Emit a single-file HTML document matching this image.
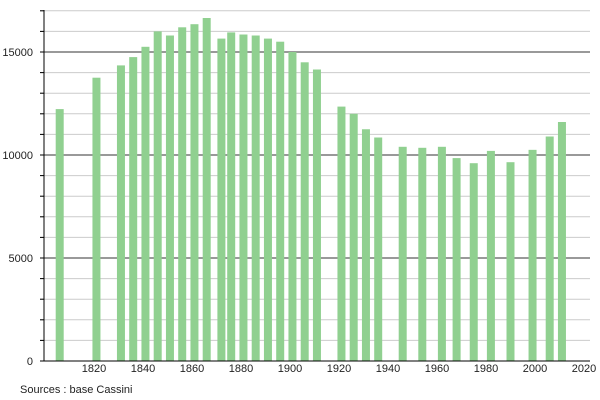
<!DOCTYPE html>
<html><head><style>body{margin:0;background:#fff}svg{display:block}</style></head><body>
<svg width="600" height="400" xmlns="http://www.w3.org/2000/svg" font-family="Liberation Sans, sans-serif" font-size="11">
<g stroke="#ccc" stroke-width="1">
<line x1="40" x2="590" y1="340.4" y2="340.4"/><line x1="40" x2="590" y1="319.8" y2="319.8"/><line x1="40" x2="590" y1="299.2" y2="299.2"/><line x1="40" x2="590" y1="278.6" y2="278.6"/>
<line x1="40" x2="590" y1="237.4" y2="237.4"/><line x1="40" x2="590" y1="216.8" y2="216.8"/><line x1="40" x2="590" y1="196.2" y2="196.2"/><line x1="40" x2="590" y1="175.6" y2="175.6"/>
<line x1="40" x2="590" y1="134.4" y2="134.4"/><line x1="40" x2="590" y1="113.8" y2="113.8"/><line x1="40" x2="590" y1="93.2" y2="93.2"/><line x1="40" x2="590" y1="72.6" y2="72.6"/>
<line x1="40" x2="590" y1="31.4" y2="31.4"/><line x1="40" x2="590" y1="10.8" y2="10.8"/>
</g>
<g stroke="#333" stroke-width="1">
<line x1="40" x2="590" y1="258" y2="258"/><line x1="40" x2="590" y1="155" y2="155"/><line x1="40" x2="590" y1="52" y2="52"/>
</g>
<g fill="#90d090">
<rect x="55.7" y="109.1" width="8" height="251.9"/>
<rect x="92.45" y="77.7" width="8" height="283.3"/>
<rect x="116.95" y="65.4" width="8" height="295.6"/>
<rect x="129.2" y="57.1" width="8" height="303.9"/>
<rect x="141.45" y="46.8" width="8" height="314.2"/>
<rect x="153.7" y="31.4" width="8" height="329.6"/>
<rect x="165.95" y="35.5" width="8" height="325.5"/>
<rect x="178.2" y="27.3" width="8" height="333.7"/>
<rect x="190.45" y="24.2" width="8" height="336.8"/>
<rect x="202.7" y="18" width="8" height="343"/>
<rect x="217.4" y="38.6" width="8" height="322.4"/>
<rect x="227.2" y="32.4" width="8" height="328.6"/>
<rect x="239.45" y="34.5" width="8" height="326.5"/>
<rect x="251.7" y="35.5" width="8" height="325.5"/>
<rect x="263.95" y="38.6" width="8" height="322.4"/>
<rect x="276.2" y="41.7" width="8" height="319.3"/>
<rect x="288.45" y="52" width="8" height="309"/>
<rect x="300.7" y="62.3" width="8" height="298.7"/>
<rect x="312.95" y="69.5" width="8" height="291.5"/>
<rect x="337.45" y="106.6" width="8" height="254.4"/>
<rect x="349.7" y="113.8" width="8" height="247.2"/>
<rect x="361.95" y="129.25" width="8" height="231.75"/>
<rect x="374.2" y="137.5" width="8" height="223.5"/>
<rect x="398.7" y="146.8" width="8" height="214.2"/>
<rect x="418.3" y="147.8" width="8" height="213.2"/>
<rect x="437.9" y="146.8" width="8" height="214.2"/>
<rect x="452.6" y="158.1" width="8" height="202.9"/>
<rect x="469.75" y="163.2" width="8" height="197.8"/>
<rect x="486.9" y="150.9" width="8" height="210.1"/>
<rect x="506.5" y="162.2" width="8" height="198.8"/>
<rect x="528.55" y="149.85" width="8" height="211.15"/>
<rect x="545.7" y="136.5" width="8" height="224.5"/>
<rect x="557.95" y="122" width="8" height="239"/>
</g>
<g stroke="#000" stroke-width="1">
<line x1="44" x2="44" y1="10" y2="361"/>
<line x1="40" x2="590" y1="361" y2="361"/>
<line x1="40" x2="44" y1="340.4" y2="340.4"/><line x1="40" x2="44" y1="319.8" y2="319.8"/><line x1="40" x2="44" y1="299.2" y2="299.2"/><line x1="40" x2="44" y1="278.6" y2="278.6"/><line x1="40" x2="44" y1="258" y2="258"/>
<line x1="40" x2="44" y1="237.4" y2="237.4"/><line x1="40" x2="44" y1="216.8" y2="216.8"/><line x1="40" x2="44" y1="196.2" y2="196.2"/><line x1="40" x2="44" y1="175.6" y2="175.6"/><line x1="40" x2="44" y1="155" y2="155"/>
<line x1="40" x2="44" y1="134.4" y2="134.4"/><line x1="40" x2="44" y1="113.8" y2="113.8"/><line x1="40" x2="44" y1="93.2" y2="93.2"/><line x1="40" x2="44" y1="72.6" y2="72.6"/><line x1="40" x2="44" y1="52" y2="52"/>
<line x1="40" x2="44" y1="31.4" y2="31.4"/><line x1="40" x2="44" y1="10.8" y2="10.8"/>
</g>
<g fill="#222" text-anchor="end">
<text x="33" y="365">0</text><text x="33" y="262">5000</text><text x="33" y="159">10000</text><text x="33" y="56">15000</text>
</g>
<g fill="#222" text-anchor="middle">
<text x="94" y="372">1820</text><text x="143" y="372">1840</text><text x="192" y="372">1860</text><text x="241" y="372">1880</text><text x="290" y="372">1900</text><text x="339" y="372">1920</text><text x="388" y="372">1940</text><text x="437" y="372">1960</text><text x="486" y="372">1980</text><text x="535" y="372">2000</text><text x="584" y="372">2020</text>
</g>
<text x="20" y="393" fill="#222">Sources : base Cassini</text>
</svg>
</body></html>
